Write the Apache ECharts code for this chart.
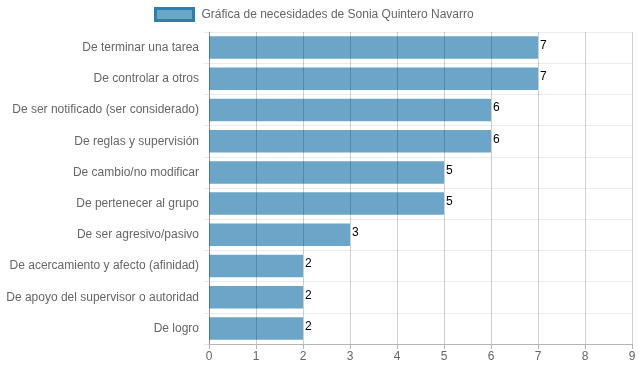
<!DOCTYPE html>
<html>
<head>
<meta charset="utf-8">
<script src="https://cdn.jsdelivr.net/npm/echarts@6/dist/echarts.min.js"></script>
<style>html,body{margin:0;padding:0;background:#fff}#c{width:639px;height:372px}</style>
</head>
<body>
<div id="c"></div>
<script>
const seriesName = 'Gráfica de necesidades de Sonia Quintero Navarro';
const categories = [
  'De terminar una tarea',
  'De controlar a otros',
  'De ser notificado (ser considerado)',
  'De reglas y supervisión',
  'De cambio/no modificar',
  'De pertenecer al grupo',
  'De ser agresivo/pasivo',
  'De acercamiento y afecto (afinidad)',
  'De apoyo del supervisor o autoridad',
  'De logro'
];
const values = [7, 7, 6, 6, 5, 5, 3, 2, 2, 2];
const xTicks = [0, 1, 2, 3, 4, 5, 6, 7, 8, 9];

const font = 'Liberation Sans, Arial, Helvetica, sans-serif';
const chart = echarts.init(document.getElementById('c'), null, {renderer: 'canvas'});
chart.setOption({
  animation: false,
  textStyle: {fontFamily: font},
  legend: {
    top: 2,
    left: 149,
    icon: 'rect',
    itemWidth: 38,
    itemHeight: 12,
    itemGap: 10,
    textStyle: {color: '#666', fontSize: 12, fontFamily: font, padding: [0, 0, 0, 3]},
    data: [{name: seriesName, itemStyle: {color: 'rgba(44,128,176,0.7)', borderColor: 'rgb(44,128,176)', borderWidth: 3}}]
  },
  grid: {left: 209, right: 7, top: 32, bottom: 28, containLabel: false},
  xAxis: {
    type: 'value',
    z: 3,
    min: xTicks[0],
    max: xTicks[xTicks.length - 1],
    interval: 1,
    axisLine: {show: true, lineStyle: {color: '#b5b5b5'}},
    axisTick: {show: true, length: 5, lineStyle: {color: '#b5b5b5'}},
    axisLabel: {color: '#666', fontSize: 12, fontFamily: font, margin: 7},
    splitLine: {show: true, lineStyle: {color: 'rgba(0,0,0,0.19)'}}
  },
  yAxis: {
    type: 'category',
    inverse: true,
    data: categories,
    axisLine: {show: true, lineStyle: {color: '#b5b5b5'}},
    axisTick: {show: true, length: 5, lineStyle: {color: '#e8e8e8'}},
    axisLabel: {color: '#666', fontSize: 12, fontFamily: font, margin: 10},
    splitLine: {show: true, lineStyle: {color: '#ececec'}}
  },
  series: [{
    name: seriesName,
    type: 'bar',
    data: values,
    barWidth: '72%',
    itemStyle: {color: 'rgba(44,128,176,0.7)'},
    label: {show: true, position: 'right', distance: 2, offset: [0, -2], color: '#000', fontSize: 12, fontFamily: font}
  }]
});
</script>
</body>
</html>
